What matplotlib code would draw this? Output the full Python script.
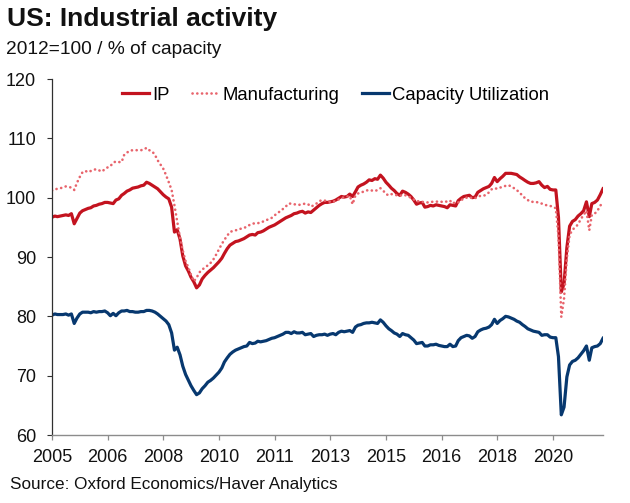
import numpy as np
import pandas as pd
import matplotlib
matplotlib.use("Agg")
import matplotlib.pyplot as plt

plt.rcParams['font.family'] = ['Liberation Sans', 'DejaVu Sans']

start_month = '2005-01'
tick_labels = ['2005', '2006', '2008', '2010', '2011', '2013', '2015', '2016', '2018', '2020']

ip = [
    96.7, 96.9, 96.8, 96.9, 97.0, 97.1, 97.0, 97.3, 95.6, 96.5, 97.4, 97.8,
    98.0, 98.2, 98.3, 98.6, 98.7, 98.9, 99.0, 99.2, 99.2, 99.1, 99.0, 99.6,
    99.8, 100.4, 100.7, 101.1, 101.3, 101.6, 101.7, 101.8, 102.0, 102.1, 102.6, 102.4,
    102.1, 101.8, 101.5, 101.0, 100.5, 100.1, 99.8, 98.4, 94.2, 94.6, 93.0, 90.2,
    88.5, 87.6, 86.6, 85.8, 84.8, 85.3, 86.3, 86.9, 87.4, 87.8, 88.2, 88.7,
    89.2, 89.8, 90.6, 91.4, 92.0, 92.3, 92.6, 92.7, 92.9, 93.1, 93.4, 93.7,
    93.8, 93.7, 94.1, 94.2, 94.4, 94.7, 95.0, 95.2, 95.4, 95.7, 96.0, 96.3,
    96.6, 96.8, 97.0, 97.3, 97.4, 97.6, 97.7, 97.4, 97.6, 97.5, 97.9, 98.3,
    98.7, 99.0, 99.2, 99.2, 99.3, 99.4, 99.6, 99.9, 100.2, 100.1, 100.2, 100.6,
    100.2, 101.0, 101.8, 102.1, 102.3, 102.6, 103.0, 102.9, 103.2, 103.1, 103.8, 103.3,
    102.6, 102.1, 101.6, 101.2, 100.7, 100.4, 101.1, 100.9, 100.6, 100.2, 99.6, 98.9,
    99.1, 99.2, 98.4, 98.5, 98.7, 98.6, 98.8, 98.7, 98.6, 98.5, 98.3, 98.8,
    98.7, 98.6, 99.5, 99.9, 100.2, 100.3, 100.4, 100.0, 100.1, 100.9, 101.2, 101.5,
    101.7, 101.9, 102.4, 103.4, 102.7, 103.2, 103.6, 104.1, 104.1, 104.1, 104.0, 103.9,
    103.5, 103.2, 102.9, 102.6, 102.4, 102.4, 102.5, 102.7, 102.1, 101.7, 101.9, 101.4,
    101.3, 101.3, 96.7, 84.1, 85.5, 91.6, 95.2, 96.0, 96.3, 96.9, 97.3, 97.8,
    99.3, 96.8, 99.0, 99.2, 99.6, 100.5, 101.5,
]

manufacturing = [
    101.2, 101.4, 101.5, 101.6, 101.7, 101.9, 101.8, 101.7, 101.3, 102.5, 103.5, 104.3,
    104.5, 104.3, 104.5, 104.7, 104.8, 104.6, 104.4, 104.8, 105.1, 105.3, 105.9, 106.1,
    106.0, 106.0, 107.2, 107.6, 107.9, 108.0, 108.0, 108.0, 108.0, 108.1, 108.4, 108.0,
    107.8, 107.2, 106.3, 105.6, 104.9, 103.8, 102.6, 101.3, 98.7, 96.0, 93.2, 91.1,
    89.3, 88.2, 87.0, 85.9, 86.5, 87.4, 87.9, 88.2, 88.6, 89.0, 89.6, 90.4,
    91.3, 92.2, 92.9, 93.6, 94.2, 94.4, 94.5, 94.6, 94.8, 94.9, 95.1, 95.4,
    95.6, 95.7, 95.7, 95.8, 96.0, 96.2, 96.4, 96.6, 97.0, 97.4, 97.7, 98.1,
    98.5, 99.0, 99.0, 98.9, 98.8, 98.8, 98.9, 99.0, 98.9, 98.5, 98.7, 99.0,
    99.4, 99.6, 99.5, 99.4, 99.3, 99.3, 99.5, 99.7, 99.9, 100.1, 100.2, 100.3,
    98.9, 100.4, 100.7, 100.9, 101.0, 101.2, 101.3, 101.2, 101.1, 101.3, 101.6, 101.2,
    100.6, 100.4, 100.6, 100.5, 100.4, 100.3, 100.5, 100.4, 100.2, 100.0, 99.7, 99.4,
    99.4, 99.3, 99.2, 99.2, 99.3, 99.3, 99.3, 99.4, 99.3, 99.4, 99.3, 99.5,
    99.0, 99.3, 99.2, 99.6, 99.8, 100.0, 100.1, 99.9, 99.9, 100.2, 100.3, 100.3,
    100.5, 100.9, 101.4, 101.6, 101.5, 101.7, 101.8, 102.0, 102.1, 101.9, 101.6, 101.3,
    100.8, 100.4, 99.9, 99.6, 99.3, 99.3, 99.3, 99.1, 99.0, 98.8, 98.7, 98.6,
    98.5, 98.2, 93.5, 79.9, 83.0, 89.8, 93.7, 94.6, 95.0, 95.5, 96.4, 97.1,
    97.8, 94.5, 97.1, 97.3, 97.8, 98.6, 99.4,
]

capacity_utilization = [
    80.2, 80.4, 80.3, 80.3, 80.3, 80.4, 80.2, 80.4, 78.8, 79.7, 80.4, 80.7,
    80.7, 80.7, 80.6, 80.8, 80.7, 80.8, 80.8, 80.9, 80.6, 80.1, 80.5, 80.1,
    80.6, 80.9, 80.9, 81.0, 80.8, 80.8, 80.7, 80.7, 80.8, 80.8, 81.0, 81.0,
    80.9, 80.7, 80.4, 80.0, 79.6, 79.2, 78.6, 77.2, 74.3, 74.8, 73.5, 71.6,
    70.2, 69.2, 68.3, 67.5, 66.8, 67.1, 67.8, 68.3, 68.9, 69.2, 69.6, 70.1,
    70.6, 71.3, 72.3, 73.0, 73.6, 74.0, 74.3, 74.5, 74.7, 74.9, 75.0, 75.6,
    75.4, 75.5, 75.8, 75.7, 75.8, 75.9, 76.1, 76.3, 76.4, 76.6, 76.8, 77.0,
    77.3, 77.3, 77.1, 77.4, 77.2, 77.2, 77.3, 76.9, 77.0, 77.1, 76.6, 76.8,
    76.9, 76.9, 77.0, 76.8, 77.0, 77.1, 76.9, 77.3, 77.5, 77.4, 77.5, 77.6,
    77.3, 78.2, 78.5, 78.6, 78.8, 78.9, 78.9, 79.0, 78.9, 78.8, 79.4, 79.0,
    78.4, 77.9, 77.6, 77.2, 77.0, 76.6, 77.1, 76.9, 76.8, 76.4, 76.0, 75.4,
    75.5, 75.6, 75.0, 75.0, 75.2, 75.2, 75.3, 75.1, 75.0, 74.9, 74.9, 75.3,
    74.9, 75.0, 75.9, 76.4, 76.6, 76.8, 76.7, 76.3, 76.6, 77.4, 77.7, 77.9,
    78.0, 78.2, 78.6, 79.5, 78.8, 79.3, 79.6, 80.0, 79.9, 79.7, 79.5, 79.2,
    79.0, 78.6, 78.3, 77.9, 77.7, 77.5, 77.4, 77.3, 76.8, 76.9, 76.9, 76.5,
    76.4, 76.4, 73.2, 63.4, 64.7, 69.8, 71.8, 72.4, 72.6, 73.0, 73.6, 74.2,
    75.0, 72.6, 74.7, 74.9, 75.0, 75.4, 76.3,
]

dates = pd.date_range(start_month, periods=len(ip), freq='MS')

fig = plt.figure(figsize=(6.3, 5.03), dpi=100)
ax = fig.add_axes([52/630, 1 - 435/503, 551/630, 356/503])

red = '#C3131F'
pink = '#E8646C'
navy = '#07386F'

ax.plot(dates, ip, color=red, lw=2.3, label='IP', solid_joinstyle='round')
ax.plot(dates, manufacturing, color=pink, lw=1.9, ls=(0, (0.05, 1.75)),
        dash_capstyle='round', label='Manufacturing')
ax.plot(dates, capacity_utilization, color=navy, lw=2.3, label='Capacity Utilization',
        solid_joinstyle='round')

ax.set_xlim(dates[0], dates[-1])
ax.set_ylim(60, 120)
ax.set_yticks(np.arange(60, 121, 10))
ax.set_xticks(dates[::20][:len(tick_labels)])
ax.set_xticklabels(tick_labels)

for s in ['top', 'right']:
    ax.spines[s].set_visible(False)
ax.spines['left'].set_color('#303030')
ax.spines['left'].set_linewidth(0.9)
ax.spines['bottom'].set_color('#8c8c8c')
ax.spines['bottom'].set_linewidth(1.0)

ax.tick_params(axis='y', direction='out', length=3.6, width=0.8, color='#303030',
               labelsize=13, pad=8, labelcolor='#111111')
ax.tick_params(axis='x', direction='out', length=3.6, width=0.9, color='#8c8c8c',
               labelsize=13, pad=6.5, labelcolor='#111111')

leg = ax.legend(loc='center', bbox_to_anchor=(0.515, 0.955), ncol=3, frameon=False,
                fontsize=13.3, handlelength=1.45, handletextpad=0.2, columnspacing=1.2,
                borderaxespad=0)

fig.text(7/630, 1 - 19/503, 'US: Industrial activity', fontsize=19, fontweight='bold',
         va='center', ha='left', color='#111111')
fig.text(6/630, 1 - 50/503, '2012=100 / % of capacity', fontsize=13.8,
         va='center', ha='left', color='#111111')
fig.text(10/630, 1 - 485/503, 'Source: Oxford Economics/Haver Analytics', fontsize=12.3,
         va='center', ha='left', color='#111111')

fig.savefig('out.png', dpi=100)
